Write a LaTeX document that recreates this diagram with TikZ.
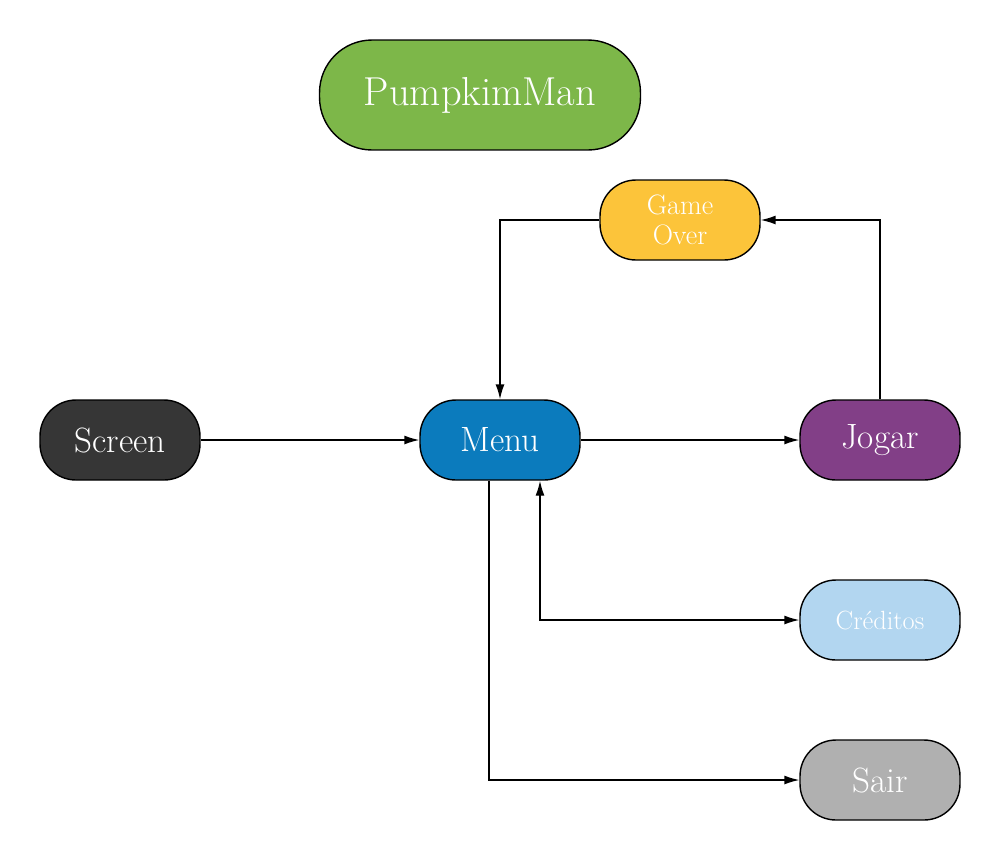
\documentclass[tikz,border=0pt]{standalone}
\usepackage{tikz}
\usetikzlibrary{arrows.meta}

\definecolor{pumpgreen}{HTML}{7DB749}
\definecolor{overyellow}{HTML}{FCC43A}
\definecolor{screengray}{HTML}{363636}
\definecolor{menublue}{HTML}{0B7BBD}
\definecolor{jogarpurple}{HTML}{823F87}
\definecolor{credblue}{HTML}{B2D6F0}
\definecolor{sairgray}{HTML}{B0B0B0}

\begin{document}
\begin{tikzpicture}[x=0.02cm, y=-0.02cm]
   \tikzstyle{every node}=[draw, thick, text=white, rounded corners=0.72cm, minimum width=3.2cm, minimum height=1.6cm, align=center, inner sep=0pt]
   \tikzstyle{link}=[thick, -{Latex[length=3mm, width=1.8mm]}]

\useasboundingbox (0,0) rectangle (1000,860);

\node[fill=pumpgreen, minimum width=6.42cm, minimum height=2.2cm, rounded corners=1.05cm, font=\fontsize{23}{26}\selectfont] (pumpkim) at (480,95) {PumpkimMan};
\node[fill=overyellow, font=\fontsize{16}{17}\selectfont] (gameover) at (680,220) {Game\\Over};
\node[fill=screengray, font=\fontsize{20}{24}\selectfont] (screen) at (120,440) {Screen};
\node[fill=menublue, font=\fontsize{20}{24}\selectfont] (menu) at (500,440) {Menu};
\node[fill=jogarpurple, font=\fontsize{20}{24}\selectfont] (jogar) at (880,440) {Jogar};
\node[fill=credblue, font=\fontsize{15}{18}\selectfont] (creditos) at (880,620) {Créditos};
\node[fill=sairgray, font=\fontsize{20}{24}\selectfont] (sair) at (880,780) {Sair};

\draw[link] (screen) -- (menu);
\draw[link] (menu) -- (jogar);
\draw[link] (jogar.north) |- (gameover.east);
\draw[link] (gameover.west) -| (menu.north);
\draw[link, {Latex[length=3mm, width=1.8mm]}-{Latex[length=3mm, width=1.8mm]}] ([xshift=0.8cm]menu.south) |- (creditos.west);
\draw[link] ([xshift=-0.22cm]menu.south) |- (sair.west);

\end{tikzpicture}
\end{document}
